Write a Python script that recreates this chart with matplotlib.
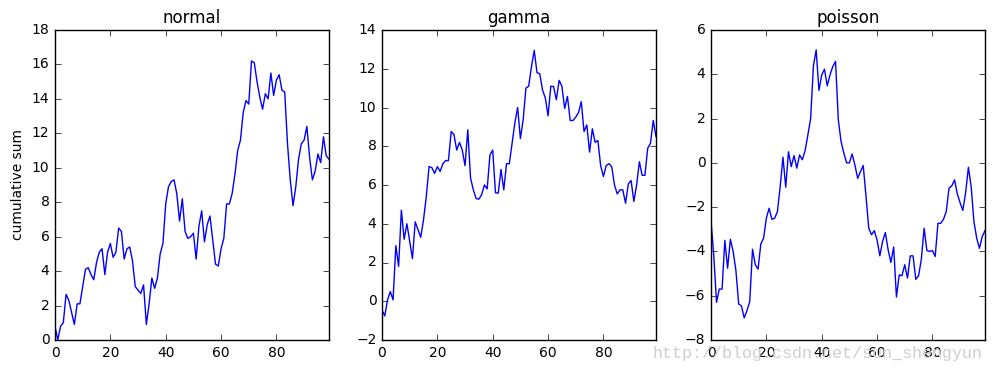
import matplotlib
matplotlib.use('Agg')
import matplotlib.pyplot as plt
import numpy as np

# cumulative sums, one value per step 0..99
normal = [0.8, 0.0, 0.8, 1.0, 2.65, 2.3, 1.6, 0.9, 2.1, 2.1,
          3.1, 4.1, 4.2, 3.8, 3.5, 4.5, 5.1, 5.3, 3.8, 5.1,
          5.6, 4.8, 5.1, 6.5, 6.3, 4.7, 5.3, 5.4, 4.6, 3.1,
          2.9, 2.7, 3.2, 0.9, 2.1, 3.6, 3.0, 3.6, 5.0, 5.6,
          7.9, 8.9, 9.2, 9.3, 8.5, 6.9, 8.2, 6.3, 5.9, 6.0,
          6.2, 4.7, 6.6, 7.5, 5.7, 6.7, 7.2, 5.8, 4.4, 4.3,
          5.3, 5.9, 7.9, 7.9, 8.5, 9.6, 11.0, 11.6, 13.2, 13.9,
          13.7, 16.2, 16.1, 15.0, 14.1, 13.4, 14.3, 14.0, 15.5, 14.2,
          15.1, 15.4, 14.5, 14.4, 11.4, 9.3, 7.8, 8.9, 10.5, 11.4,
          11.6, 12.4, 10.6, 9.3, 9.8, 10.8, 10.3, 11.8, 10.7, 10.5]

gamma = [-0.45, -0.76, 0.07, 0.5, 0.07, 2.87, 1.8, 4.7, 3.2, 4.0,
         3.1, 2.2, 4.1, 3.7, 3.3, 4.2, 5.4, 6.95, 6.9, 6.6,
         6.95, 6.7, 7.1, 7.26, 7.26, 8.76, 8.6, 7.8, 8.2, 7.8,
         7.0, 8.85, 6.35, 5.75, 5.3, 5.27, 5.5, 6.0, 5.8, 7.55,
         7.8, 5.6, 5.58, 6.8, 5.75, 7.1, 7.1, 8.15, 9.2, 10.0,
         8.4, 9.36, 11.0, 11.1, 12.1, 12.95, 11.8, 11.74, 10.9, 10.5,
         9.57, 11.1, 11.08, 10.4, 11.4, 11.1, 9.95, 10.57, 9.33, 9.33,
         9.5, 9.74, 10.3, 8.76, 9.1, 7.7, 8.9, 8.2, 8.3, 7.0,
         6.44, 7.0, 7.1, 6.95, 6.0, 5.54, 5.75, 5.75, 5.06, 6.06,
         6.23, 5.15, 6.0, 7.2, 6.5, 6.5, 7.9, 8.15, 9.33, 8.5]

poisson = [-2.6, -4.2, -6.3, -5.7, -5.7, -3.5, -4.76, -3.45, -4.0, -4.86,
           -6.37, -6.46, -7.0, -6.67, -6.26, -3.9, -4.6, -4.8, -3.66, -3.4,
           -2.5, -2.05, -2.55, -2.5, -2.2, -1.07, 0.26, -1.1, 0.5, -0.17,
           0.33, -0.24, 0.36, 0.14, 0.55, 1.26, 2.0, 4.38, 5.1, 3.27,
           3.97, 4.23, 3.48, 3.97, 4.35, 4.58, 1.94, 0.96, 0.44, 0.0,
           0.0, 0.4, -0.1, -0.7, -0.4, -0.12, -1.5, -2.95, -3.25, -3.06,
           -3.48, -4.2, -3.55, -3.15, -3.93, -4.5, -3.8, -6.06, -5.06, -5.1,
           -4.6, -5.2, -4.2, -4.2, -5.26, -5.1, -4.35, -2.95, -3.96, -4.0,
           -3.96, -4.23, -2.73, -2.73, -2.55, -2.2, -1.14, -1.04, -0.77, -1.4,
           -1.8, -2.15, -1.34, -0.2, -1.07, -2.65, -3.4, -3.86, -3.33, -3.06]

titles = ['normal', 'gamma', 'poisson']
ylims = [(0, 18), (-2, 14), (-8, 6)]

plt.style.use('classic')
fig = plt.figure(figsize=(9.94, 3.70), dpi=100, facecolor='white')

lefts = [55, 382, 711]
for k, (data, title, ylim) in enumerate(zip([normal, gamma, poisson], titles, ylims)):
    ax = fig.add_axes([lefts[k] / 994, 30 / 370, 274 / 994, 310 / 370])
    ax.plot(np.arange(len(data)), data, 'b-', lw=1)
    ax.set_xlim(0, 99)
    ax.set_ylim(*ylim)
    ax.set_xticks([0, 20, 40, 60, 80])
    ax.set_title(title, fontsize=12)
    ax.tick_params(labelsize=10)
    if k == 0:
        ax.set_ylabel('cumulative sum', fontsize=10)

fig.text(652 / 994, 12 / 370, 'http://blog.csdn.net/sun_shengyun', fontsize=12,
         family='Liberation Mono', color='#cfcfcf', va='baseline')

plt.savefig('out.png', dpi=100, facecolor='white')
